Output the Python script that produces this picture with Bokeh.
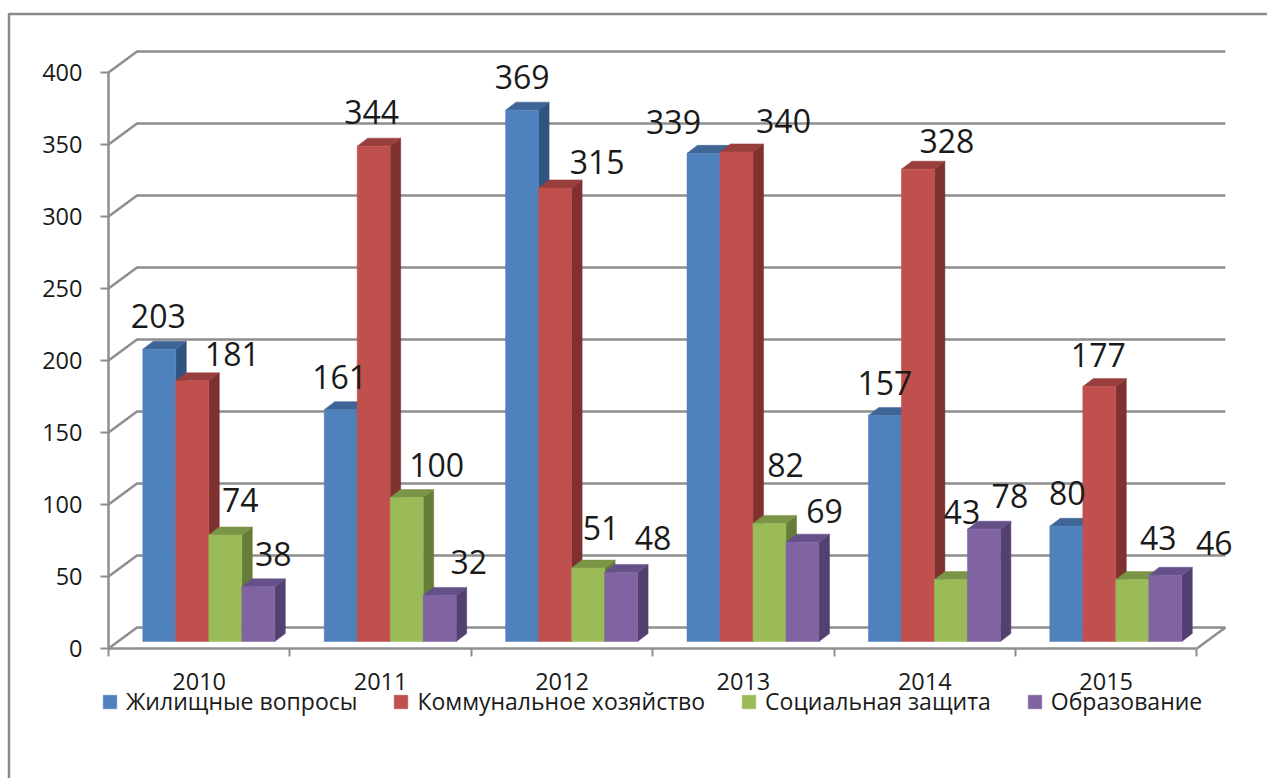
from bokeh.plotting import figure
from bokeh.embed import file_html
from bokeh.resources import INLINE
from bokeh.models import FixedTicker, Range1d, Legend, LegendItem, ColumnDataSource

years = ["2010", "2011", "2012", "2013", "2014", "2015"]
housing = [203, 161, 369, 339, 157, 80]
utilities = [181, 344, 315, 340, 328, 177]
social = [74, 100, 51, 82, 43, 43]
education = [38, 32, 48, 69, 78, 46]
series_names = ["Жилищные вопросы", "Коммунальное хозяйство", "Социальная защита", "Образование"]
y_ticks = [0, 50, 100, 150, 200, 250, 300, 350, 400]

# label displacement from each bar's top centre, in pixels (per series)
label_dx = [[-1, -1, 0, -30, 0, 1], [40, -2, 42, 47, 29, -1], [15, 30, 13, 16, 11, 26], [15, 29, 32, 22, 26, 49]]
label_dy = [[-33, -33, -33, -31, -32, -33], [-27, -34, -26, -31, -28, -32], [-35, -33, -40, -58, -68, -42], [-33, -33, -34, -31, -33, -32]]

front = ["#4F81BD", "#C0504D", "#9BBB59", "#8064A2"]
side = ["#2F5480", "#7F3130", "#667D3A", "#54406F"]
topc = ["#3E6595", "#983E3C", "#7B9546", "#65508A"]
GRID = "#8E8E8E"
TXT = "#1a1a1a"

PX_X = 181.4          # px per category
PX_Y = 1.44           # px per value unit
W_FIG, H_FIG = 1267, 778
X0, Y0 = 108, 648     # where the axes cross, in px

p = figure(width=W_FIG, height=H_FIG, output_backend="svg", toolbar_location=None,
           x_range=Range1d(-X0 / PX_X, (W_FIG - X0) / PX_X),
           y_range=Range1d(-(H_FIG - Y0) / PX_Y, Y0 / PX_Y),
           min_border_left=0, min_border_right=0, min_border_top=0, min_border_bottom=0)
p.outline_line_color = None
p.grid.visible = False

# outer frame of the picture: left and top edges only
p.line([p.x_range.start + 8.5 / PX_X] * 2 + [p.x_range.end],
       [p.y_range.start, p.y_range.end - 13.5 / PX_Y, p.y_range.end - 13.5 / PX_Y],
       line_color="#8A8A8A", line_width=2.5)

wall_dx, wall_dy = 28.5 / PX_X, 21 / PX_Y
bar_dx, bar_dy = 10.5 / PX_X, 8 / PX_Y
bar_w = 33 / PX_X
bar_start = 34.3 / PX_X
base = 7 / PX_Y

# back wall gridlines with their slanted returns to the axis
gx, gy = [], []
for t in y_ticks:
    gx.append([0, wall_dx, 6 + wall_dx] if t else [0, wall_dx, 6 + wall_dx, 6])
    gy.append([t, t + wall_dy, t + wall_dy] if t else [t, t + wall_dy, t + wall_dy, t])
p.multi_line(gx, gy, line_color=GRID, line_width=2.5)

items = []
all_series = [housing, utilities, social, education]
for s, vals in enumerate(all_series):
    lefts = [g + bar_start + s * bar_w for g in range(len(years))]
    rights = [l + bar_w for l in lefts]
    tops = [v + base for v in vals]
    p.patches([[r, r + bar_dx, r + bar_dx, r] for r in rights],
              [[base, base + bar_dy, t + bar_dy, t] for t in tops],
              fill_color=side[s], line_color=side[s], line_width=0.5)
    p.patches([[l, l + bar_dx, r + bar_dx, r] for l, r in zip(lefts, rights)],
              [[t, t + bar_dy, t + bar_dy, t] for t in tops],
              fill_color=topc[s], line_color=topc[s], line_width=0.5)
    r = p.quad(left=lefts, right=rights, bottom=base, top=tops,
               fill_color=front[s], line_color=front[s], line_width=0.5)
    items.append(LegendItem(label=series_names[s], renderers=[r]))

for s, vals in enumerate(all_series):
    src = ColumnDataSource(dict(
        x=[g + bar_start + (s + 0.5) * bar_w for g in range(len(years))],
        y=[v + base for v in vals],
        t=[str(v) for v in vals],
        dx=label_dx[s], dy=label_dy[s]))
    p.text("x", "y", text="t", source=src, x_offset="dx", y_offset="dy",
           text_align="center", text_baseline="middle",
           text_font={"value": "Open Sans"}, text_font_size="32px", text_color=TXT)

xa = p.xaxis[0]
xa.fixed_location = 0
xa.ticker = FixedTicker(ticks=[i + 0.5 for i in range(6)], minor_ticks=list(range(7)))
xa.major_label_overrides = {i + 0.5: y for i, y in enumerate(years)}
xa.bounds = (0, 6)
xa.axis_line_color = GRID
xa.axis_line_width = 2.5
xa.major_tick_line_color = None
xa.minor_tick_line_color = GRID
xa.minor_tick_line_width = 2
xa.minor_tick_out = 8
xa.minor_tick_in = 0
xa.major_tick_out = 0
xa.major_tick_in = 0
xa.major_label_standoff = 16
xa.major_label_text_font = "Open Sans"
xa.major_label_text_font_size = "23.5px"
xa.major_label_text_color = TXT

ya = p.yaxis[0]
ya.fixed_location = 0
ya.ticker = FixedTicker(ticks=y_ticks)
ya.bounds = (0, 400)
ya.axis_line_color = GRID
ya.axis_line_width = 2.5
ya.major_tick_line_color = GRID
ya.major_tick_line_width = 2
ya.major_tick_out = 8
ya.major_tick_in = 0
ya.minor_tick_line_color = None
ya.major_label_standoff = 18
ya.major_label_text_font = "Open Sans"
ya.major_label_text_font_size = "23.5px"
ya.major_label_text_color = TXT

legend = Legend(items=items, orientation="horizontal", location=(101, 61),
                glyph_width=17, glyph_height=17, label_standoff=8, spacing=35,
                padding=0, margin=0, border_line_color=None, background_fill_alpha=0,
                label_text_font="Open Sans", label_text_font_size="23px",
                label_text_color=TXT, label_height=20)
p.add_layout(legend, "center")

open("out.html", "w").write(file_html(p, INLINE))
